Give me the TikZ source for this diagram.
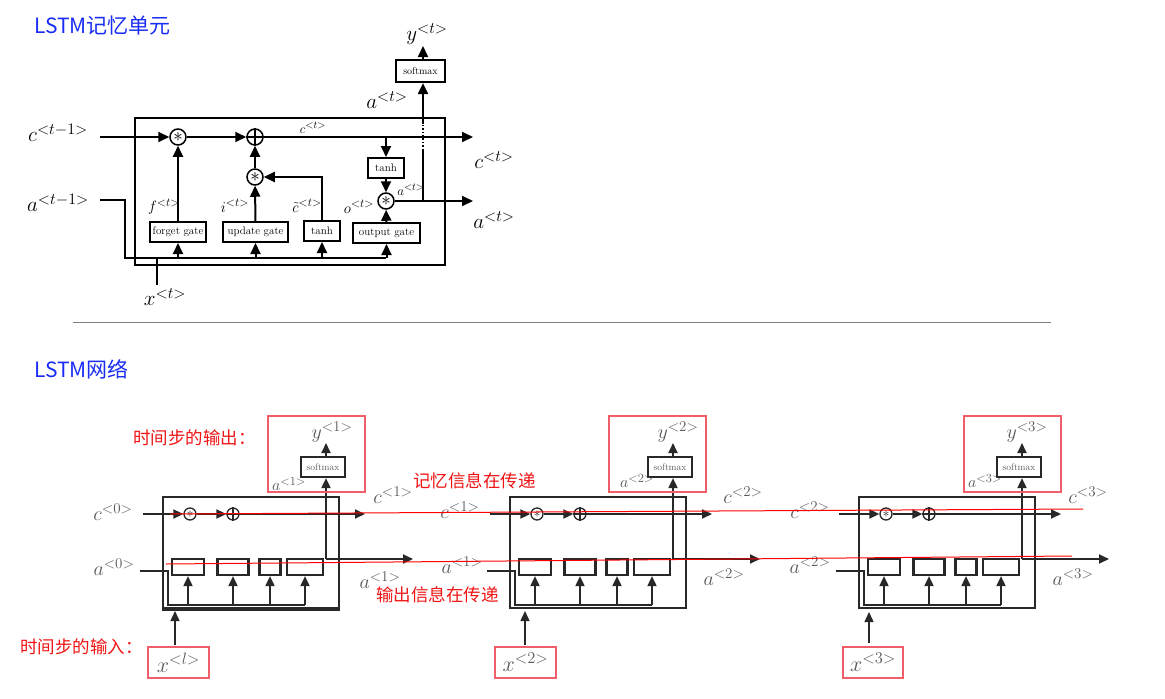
\documentclass[tikz,border=0pt]{standalone}
\usepackage{fix-cm}
\usepackage{fontspec}
\newfontfamily\cjk{Noto Sans CJK SC}
\usetikzlibrary{arrows.meta,calc}
\DeclareMathSizes{21}{21}{16}{12}
\DeclareMathSizes{20}{20}{15}{11}
\DeclareMathSizes{22}{22}{16.5}{12}
\DeclareMathSizes{16}{16}{12.5}{9}
\DeclareMathSizes{15}{15}{12}{9}
\DeclareMathSizes{13}{13}{10.5}{8}
\definecolor{tblue}{RGB}{25,45,245}
\definecolor{rlab}{RGB}{240,20,20}
\definecolor{rbox}{RGB}{240,95,105}
\definecolor{dk}{RGB}{40,40,40}
\definecolor{gl}{RGB}{90,90,90}
\newcommand{\mycell}[2]{%
  \node[cellbox] (box#1) at (#2+88,552.5) {};
  \node[opsm] (m#1) at (#2+27,514) {$\ast$};
  \node[opsm] (p#1) at (#2+70,514) {};
  \draw[dk,line width=1.2pt] (p#1.north) -- (p#1.south) (p#1.west) -- (p#1.east);
  \coordinate (cin#1) at (#2-20,514);
  \coordinate (cout#1) at (#2+202,514);
  \draw[arrs] (cin#1) -- (m#1);
  \draw[arrs] (m#1) -- (p#1);
  \draw[arrs] (p#1) -- (cout#1);
  \node[gbs,minimum width=32] (g#1a) at (#2+25,567) {};
  \node[gbs,minimum width=31] (g#1b) at (#2+70,567) {};
  \node[gbs,minimum width=21] (g#1c) at (#2+107,567) {};
  \node[gbs,minimum width=36] (g#1d) at (#2+142,567) {};
  \node[smb] (s#1) at (#2+160,467) {softmax};
  \coordinate (j#1) at (#2+163,559);
  \coordinate (aout#1) at (#2+250,559);
  \draw[arrs] (j#1) -- (aout#1);
  \draw[arrs] (j#1) -- (j#1 |- s#1.south);
  \coordinate (yt#1) at (#2+163,443);
  \draw[arrs] (j#1 |- s#1.north) -- (yt#1);
  \coordinate (ain#1) at (#2-23,571);
  \coordinate (bl#1) at (#2+5,605);
  \coordinate (br#1) at (#2+142,605);
  \draw[lns] (ain#1) -| (bl#1) -- (br#1);
  \foreach \g in {a,b,c,d} \draw[arrs] (g#1\g.south |- bl#1) -- (g#1\g.south);
}
\begin{document}
\begin{tikzpicture}[x=1pt,y=-1pt,
  ln/.style={line width=2pt},
  arr/.style={line width=2pt,-{Triangle[length=11pt,width=10pt]}},
  gate/.style={draw,line width=2pt,minimum height=20pt,inner sep=0pt,font=\fontsize{11}{12}\selectfont},
  op/.style={circle,draw,line width=1.5pt,minimum size=16pt,inner sep=0pt,font=\fontsize{19}{19}\selectfont},
  lab/.style={font=\fontsize{21}{25}\selectfont,inner sep=0pt},
  slab/.style={font=\fontsize{15}{18}\selectfont,inner sep=0pt},
  tlab/.style={font=\fontsize{13}{15}\selectfont,inner sep=0pt},
  cellbox/.style={draw=dk,line width=2.2pt,minimum width=176,minimum height=111,inner sep=0pt},
  opsm/.style={circle,draw=dk,line width=1.3pt,minimum size=12pt,inner sep=0pt,text=dk,font=\fontsize{14}{14}\selectfont},
  arrs/.style={dk,line width=1.8pt,-{Triangle[length=10pt,width=9pt]}},
  lns/.style={dk,line width=1.8pt},
  gbs/.style={draw=dk,line width=2.2pt,minimum height=16pt,inner sep=0pt},
  smb/.style={draw=dk,line width=2.2pt,minimum width=44,minimum height=20,inner sep=0pt,text=gl,font=\fontsize{9.5}{10}\selectfont},
  glab/.style={text=gl,font=\fontsize{20}{23}\selectfont,inner sep=0pt},
  gslab/.style={text=gl,font=\fontsize{16}{18}\selectfont,inner sep=0pt},
  rbox/.style={draw=rbox,line width=1.3pt,inner sep=0pt},
  rtxt/.style={text=rlab,font=\cjk\fontsize{17.5}{20}\selectfont,inner sep=0pt},
]
\useasboundingbox (0,0) rectangle (1165,699);
\fill[white] (0,0) rectangle (1165,699);

% ---------- titles ----------
\node[anchor=west,text=tblue,font=\cjk\fontsize{21}{24}\selectfont,inner sep=0pt] (title1) at (34,26) {LSTM记忆单元};
\node[anchor=west,text=tblue,font=\cjk\fontsize{21}{24}\selectfont,inner sep=0pt] (title2) at (34,369) {LSTM网络};
\coordinate (sepA) at (73,322);
\coordinate (sepB) at (1051,322);
\draw[gray,line width=1pt] (sepA) -- (sepB);

% ---------- top cell ----------
\node[draw,line width=2.2pt,minimum width=310,minimum height=147,inner sep=0pt] (cell) at (290,191.5) {};
\node[op] (f1) at (178,137) {$\ast$};
\node[op] (p1) at (255,137) {};
\draw[line width=1.5pt] (p1.north) -- (p1.south) (p1.west) -- (p1.east);
\node[op] (m1) at (255,177) {$\ast$};
\node[op] (o1) at (386,201) {$\ast$};
\node[gate,minimum width=36] (th2) at (386,168) {tanh};
\node[gate,minimum width=56] (fg) at (178,232) {forget gate};
\node[gate,minimum width=65] (ug) at (255.5,232) {update gate};
\node[gate,minimum width=36] (th1) at (322,231) {tanh};
\node[gate,minimum width=67] (og) at (386.5,233) {output gate};
\node[draw,line width=2.2pt,minimum width=49,minimum height=22,inner sep=0pt,font=\fontsize{10}{11}\selectfont] (sm) at (420.5,71) {softmax};

\coordinate (cin) at (100,137);
\coordinate (cout) at (473,137);
\coordinate (aout) at (473,201);
\coordinate (aj) at (423,201);
\coordinate (ain) at (100,200);
\coordinate (busL) at (125,258);
\coordinate (busR) at (386,258);
\coordinate (xin) at (157,285);
\coordinate (ytop) at (423,46);
\coordinate (gapA) at (423,150);
\coordinate (gapB) at (423,124);

\draw[arr] (cin) -- (f1);
\draw[arr] (f1) -- (p1);
\draw[arr] (p1) -- (cout);
\draw[arr] (th2.north |- p1) -- (th2.north);
\draw[arr] (th2) -- (o1);
\draw[arr] (o1) -- (aout);
\draw[ln] (aj) -- (gapA);
\draw[line width=1.4pt,dotted] (gapA) -- (gapB);
\draw[arr] (gapB) -- (aj |- sm.south);
\draw[arr] (aj |- sm.north) -- (ytop);
\draw[arr] (fg) -- (f1);
\draw[arr] (ug) -- (m1);
\draw[arr] (m1) -- (p1);
\draw[arr] (th1.north) |- (m1.east);
\draw[arr] (og) -- (o1);
\draw[ln] (ain) -| (busL) -- (busR);
\draw[ln] (xin) -- (xin |- busL);
\foreach \n in {fg,ug,th1,og} \draw[arr] (\n.south |- busL) -- (\n.south);

\node[lab] (lc0) at (58,133) {$c^{<t-1>}$};
\node[lab] (la0) at (58,203) {$a^{<t-1>}$};
\node[lab] (lc1) at (494,160) {$c^{<t>}$};
\node[lab] (la1) at (494,220) {$a^{<t>}$};
\node[lab] (la2) at (387,100) {$a^{<t>}$};
\node[lab] (ly) at (427,34) {$y^{<t>}$};
\node[lab] (lx) at (165,297) {$x^{<t>}$};
\node[tlab] (lci) at (313,128) {$c^{<t>}$};
\node[tlab] (lai) at (411,190) {$a^{<t>}$};
\node[slab] (lf) at (164,207) {$f^{<t>}$};
\node[slab] (li) at (235,206) {$i^{<t>}$};
\node[slab] (lct) at (307,206) {$\tilde{c}^{<t>}$};
\node[slab] (lo) at (359,207) {$o^{<t>}$};

% ---------- bottom network ----------
\mycell{1}{163}
\mycell{2}{510}
\mycell{3}{859}
\draw[dk,line width=2.8pt] (box1.south west) -- ++(178,0);

% labels
\node[glab] (c0) at (113,512) {$c^{<0>}$};
\node[glab] (a0) at (114,567) {$a^{<0>}$};
\node[glab] (c1o) at (393,495) {$c^{<1>}$};
\node[glab] (a1o) at (380,580) {$a^{<1>}$};
\node[glab] (c1i) at (460,510) {$c^{<1>}$};
\node[glab] (a1i) at (462,565) {$a^{<1>}$};
\node[glab] (c2o) at (743,495) {$c^{<2>}$};
\node[glab] (a2o) at (724,577) {$a^{<2>}$};
\node[glab] (c2i) at (810,510) {$c^{<2>}$};
\node[glab] (a2i) at (810,565) {$a^{<2>}$};
\node[glab] (c3o) at (1088,495) {$c^{<3>}$};
\node[glab] (a3o) at (1073,577) {$a^{<3>}$};
\node[glab] (y1) at (332,432) {$y^{<1>}$};
\node[glab] (y2) at (678,432) {$y^{<2>}$};
\node[glab] (y3) at (1027,432) {$y^{<3>}$};
\node[gslab] (as1) at (289,484) {$a^{<1>}$};
\node[gslab] (as2) at (637,481) {$a^{<2>}$};
\node[gslab] (as3) at (985,481) {$a^{<3>}$};

% red boxes
\node[rbox,minimum width=97,minimum height=76] (ry1) at (316.5,454) {};
\node[rbox,minimum width=97,minimum height=76] (ry2) at (657.5,454) {};
\node[rbox,minimum width=97,minimum height=76] (ry3) at (1012.5,454) {};
\node[rbox,minimum width=61,minimum height=31,text=gl,font=\fontsize{22}{26}\selectfont] (rx1) at (178.5,662.5) {$x^{<l>}$};
\node[rbox,minimum width=61,minimum height=31,text=gl,font=\fontsize{22}{26}\selectfont] (rx2) at (525.5,662.5) {$x^{<2>}$};
\node[rbox,minimum width=60,minimum height=31,text=gl,font=\fontsize{22}{26}\selectfont] (rx3) at (873,662.5) {$x^{<3>}$};
\coordinate (xb1) at (175,611);
\coordinate (xb2) at (525,611);
\coordinate (xb3) at (869,612);
\draw[arrs,line width=1.4pt] (175,645) -- (xb1);
\draw[arrs,line width=1.4pt] (525,645) -- (xb2);
\draw[arrs,line width=1.4pt] (869,643) -- (xb3);

% red flow lines
\coordinate (rc1) at (170,514);
\coordinate (rc2) at (1083,509);
\coordinate (ra1) at (166,564);
\coordinate (ra2) at (1072,556);
\draw[red,line width=1pt] (rc1) -- (rc2);
\draw[red,line width=1pt] (ra1) -- (ra2);

% red texts
\node[rtxt,anchor=west] (tout) at (133,438) {时间步的输出：};
\node[rtxt,anchor=west] (tin) at (20,647) {时间步的输入：};
\node[rtxt,anchor=west] (tmem) at (413,481) {记忆信息在传递};
\node[rtxt,anchor=west] (tpass) at (376,595) {输出信息在传递};
\end{tikzpicture}
\end{document}
